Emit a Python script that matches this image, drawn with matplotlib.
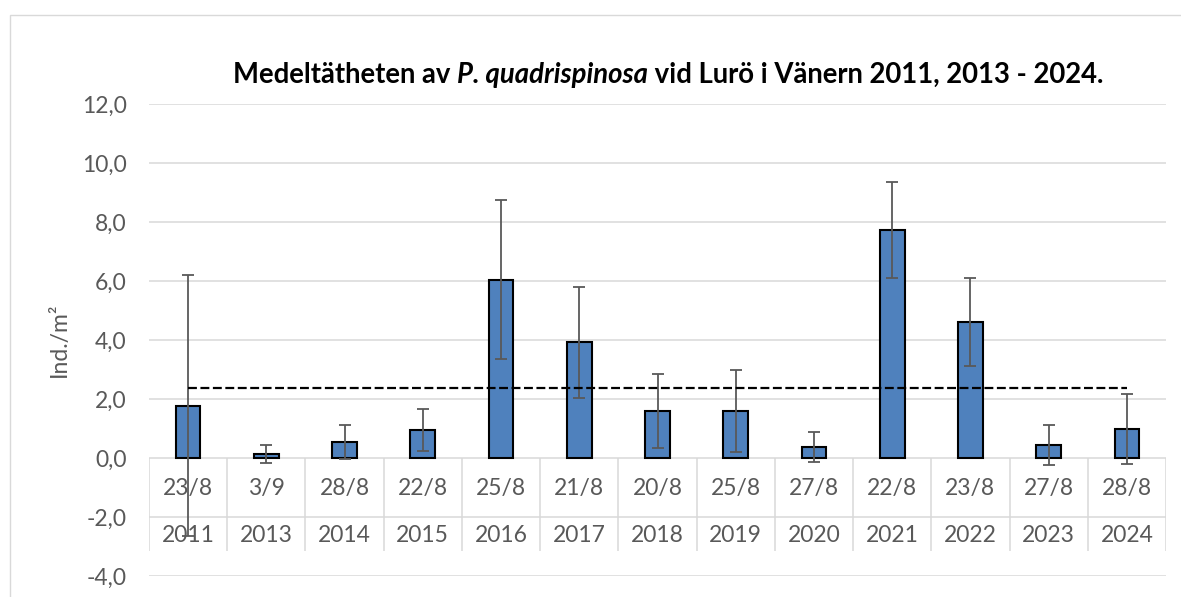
import matplotlib
matplotlib.use("Agg")
import matplotlib.pyplot as plt
from matplotlib.patches import Rectangle
from matplotlib.ticker import FuncFormatter

# data
years = ["2011", "2013", "2014", "2015", "2016", "2017", "2018",
         "2019", "2020", "2021", "2022", "2023", "2024"]
dates = ["23/8", "3/9", "28/8", "22/8", "25/8", "21/8", "20/8",
         "25/8", "27/8", "22/8", "23/8", "27/8", "28/8"]
density = [1.77, 0.14, 0.55, 0.96, 6.05, 3.92, 1.59,
           1.59, 0.37, 7.72, 4.60, 0.45, 0.98]
std_err = [4.43, 0.30, 0.57, 0.71, 2.70, 1.88, 1.26,
           1.39, 0.52, 1.62, 1.49, 0.68, 1.19]
mean_all = 2.36

plt.rcParams['font.family'] = ['Lato', 'DejaVu Sans']
grey = '#595959'
grid_c = '#d9d9d9'
fs = 16.5

W, H = 1181, 597
fig = plt.figure(figsize=(W / 100, H / 100), dpi=100)
ax = fig.add_axes([149 / W, 1 - 576 / H, (1166 - 149) / W, (576 - 104) / H])

# yttre ram runt diagrammet
fig.add_artist(Rectangle((10 / W, -0.5), 2, 0.5 + (1 - 15 / H),
                         transform=fig.transFigure, fill=False,
                         edgecolor=grid_c, linewidth=1.0))

x = list(range(len(years)))

ax.set_ylim(-4, 12)
ax.set_xlim(-0.5, len(years) - 0.5)
ax.set_yticks([-4, -2, 0, 2, 4, 6, 8, 10, 12])
ax.yaxis.set_major_formatter(FuncFormatter(lambda v, p: f"{v:.1f}".replace('.', ',')))
ax.tick_params(axis='y', length=0, pad=16, labelsize=fs, labelcolor=grey)
ax.set_xticks([])
ax.yaxis.grid(True, color=grid_c, linewidth=1.1)
ax.set_axisbelow(True)
for s in ax.spines.values():
    s.set_visible(False)

# tabell for kategoriaxeln (datum + år)
row_bottom = -3.15
ax.vlines([i - 0.5 for i in range(len(years) + 1)], row_bottom, 0,
          color=grid_c, linewidth=1.1, zorder=1)
for i in x:
    ax.text(i, -1.02, dates[i], ha='center', va='center', fontsize=fs, color=grey, zorder=2)
    ax.text(i, -2.62, years[i], ha='center', va='center', fontsize=fs, color=grey, zorder=2)

ax.bar(x, density, width=0.315, color='#4f81bd', edgecolor='black',
       linewidth=1.5, zorder=3)
ax.errorbar(x, density, yerr=std_err, fmt='none', ecolor=grey,
            elinewidth=1.3, capsize=4.5, capthick=1.3, zorder=4)
ax.plot([x[0], x[-1]], [mean_all, mean_all], color='black', linewidth=1.6,
        dashes=(4.0, 1.6), zorder=5)

ax.set_ylabel("Ind./m²", fontsize=fs, color=grey)
ax.yaxis.set_label_coords(-0.078, 0.5)

# titel med kursivt artnamn
tfs = 19.8
ty = (H - 88) / H
t1 = fig.text(233 / W, ty, "Medeltätheten av ", fontsize=tfs, weight='bold', va='bottom')
t2 = ax.annotate("P. quadrispinosa", xy=(1, 0), xycoords=t1, va='bottom',
                 fontsize=tfs, weight='bold', style='italic')
t3 = ax.annotate(" vid Lurö i Vänern 2011, 2013 - 2024.", xy=(1, 0), xycoords=t2,
                 va='bottom', fontsize=tfs, weight='bold')

fig.savefig("out.png", dpi=100)
